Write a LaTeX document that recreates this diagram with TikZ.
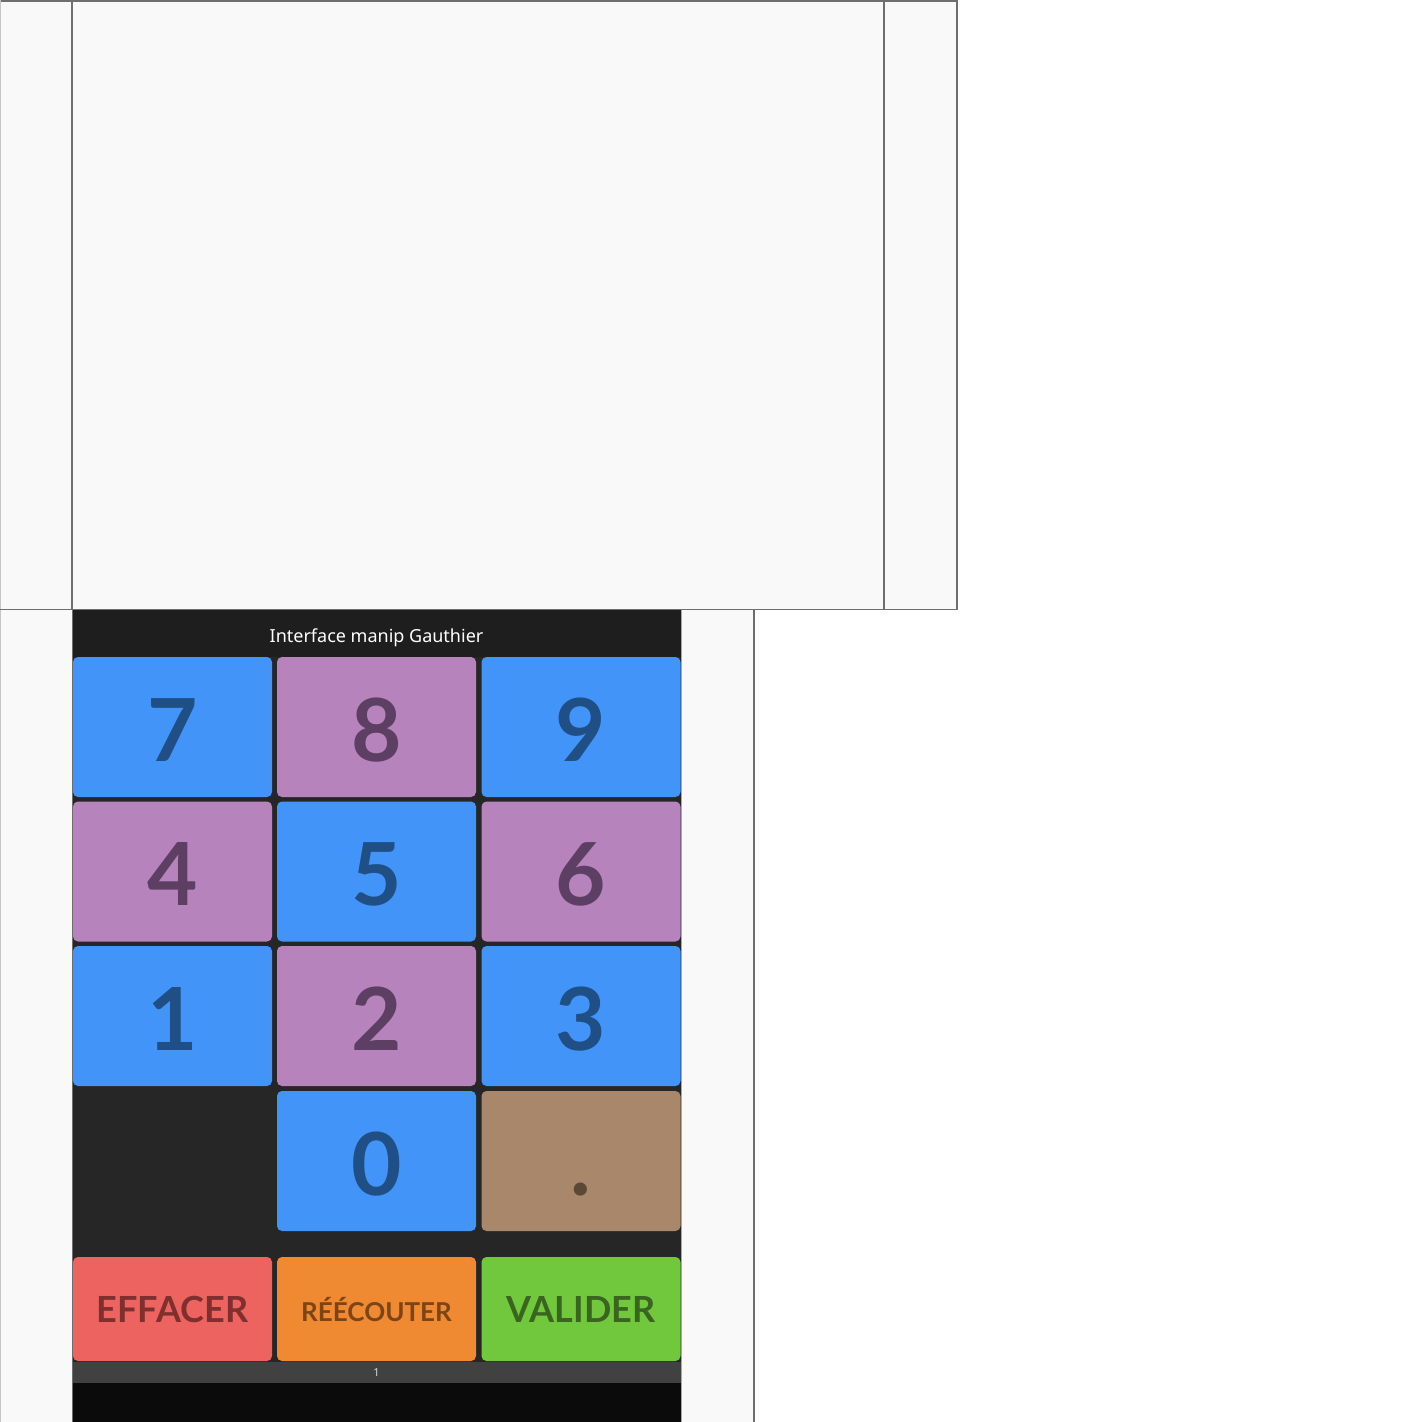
\documentclass[tikz,border=0pt]{standalone}
\usepackage{fontspec}
\setmainfont{Noto Sans}
\newfontfamily\keyfont{Lato}
\definecolor{panelbg}{HTML}{F9F9F9}
\definecolor{edge}{HTML}{6E6E6E}
\definecolor{titlebg}{HTML}{1E1E1E}
\definecolor{bodybg}{HTML}{262626}
\definecolor{footbg}{HTML}{414141}
\definecolor{endbg}{HTML}{0B0B0B}
\definecolor{kblue}{HTML}{4394F8}
\definecolor{tblue}{HTML}{1F4F85}
\definecolor{kpurple}{HTML}{B783BD}
\definecolor{tpurple}{HTML}{5C3F62}
\definecolor{kbrown}{HTML}{A8876A}
\definecolor{tbrown}{HTML}{5B4835}
\definecolor{kred}{HTML}{EC6360}
\definecolor{tred}{HTML}{7E2F2E}
\definecolor{korange}{HTML}{EF8932}
\definecolor{torange}{HTML}{7C4517}
\definecolor{kgreen}{HTML}{72C83C}
\definecolor{tgreen}{HTML}{3A6520}
\tikzset{
  keybox/.style={rectangle, rounded corners=5pt, minimum width=199pt, minimum height=140pt, inner sep=0pt, outer sep=0pt, fill=#1},
  btnbox/.style={rectangle, rounded corners=5pt, minimum width=199pt, minimum height=104pt, inner sep=0pt, outer sep=0pt, fill=#1},
  digit/.style={anchor=base, inner sep=0pt, text=#1, font=\keyfont\bfseries\fontsize{87}{87}\selectfont},
  btntext/.style={inner sep=0pt, text=#1, font=\keyfont\bfseries\fontsize{36}{36}\selectfont},
  edgeline/.style={draw=edge, line width=1.5pt}
}
\begin{document}
\begin{tikzpicture}[x=1pt, y=-1pt]
\useasboundingbox (0,0) rectangle (1422,1422);
% top panel
\fill[panelbg] (0,0) rectangle (957,609);
\draw[edgeline] (0.5,0.75) -- (957,0.75) -- (957,609.5) -- (0,609.5);
\draw[draw=edge!40, line width=1pt] (0.5,0) -- (0.5,609);
\draw[edgeline] (72,0) -- (72,609);
\draw[edgeline] (884,0) -- (884,609);
% bottom panel
\fill[panelbg] (0,610) rectangle (754,1422);
\draw[edgeline] (754,610) -- (754,1422);
\draw[draw=edge!40, line width=1pt] (0.5,610) -- (0.5,1422);
% phone
\fill[bodybg] (72,610) rectangle (681,1422);
\fill[titlebg] (72,610) rectangle (681,657);
\fill[footbg] (72,1362) rectangle (681,1383);
\fill[endbg] (72,1383) rectangle (681,1422);
\draw[draw=edge, line width=1pt] (72,610) -- (72,1422);
\draw[draw=edge!60, line width=1pt] (681.5,610) -- (681.5,1422);
\node[text=white, inner sep=0pt, font=\fontsize{18}{18}\selectfont] (title) at (376.5,638) {Interface manip Gauthier};
% keys
\node[keybox=kblue]   (k7) at (172.5,727) {};
\node[keybox=kpurple] (k8) at (376.5,727) {};
\node[keybox=kblue]   (k9) at (581,727) {};
\node[keybox=kpurple] (k4) at (172.5,871.5) {};
\node[keybox=kblue]   (k5) at (376.5,871.5) {};
\node[keybox=kpurple] (k6) at (581,871.5) {};
\node[keybox=kblue]   (k1) at (172.5,1016) {};
\node[keybox=kpurple] (k2) at (376.5,1016) {};
\node[keybox=kblue]   (k3) at (581,1016) {};
\node[keybox=kblue]   (k0) at (376.5,1161) {};
\node[keybox=kbrown]  (kdot) at (581,1161) {};
\foreach \k/\d/\c in {k7/7/tblue,k8/8/tpurple,k9/9/tblue,k4/4/tpurple,k5/5/tblue,k6/6/tpurple,k1/1/tblue,k2/2/tpurple,k3/3/tblue,k0/0/tblue}{
  \node[digit=\c] (t\k) at ([yshift=-34pt]\k.center) {\d};
}
\node[digit=tbrown] (tkdot) at ([yshift=-34pt]kdot.center) {.};
% buttons
\node[btnbox=kred]    (bclear)  at (172.5,1309) {};
\node[btnbox=korange] (breplay) at (376.5,1309) {};
\node[btnbox=kgreen]  (bok)     at (581,1309) {};
\node[btntext=tred] at (bclear.center) {EFFACER};
\node[btntext=torange, font=\keyfont\bfseries\fontsize{26}{26}\selectfont] at (breplay.center) {RÉÉCOUTER};
\node[btntext=tgreen] at (bok.center) {VALIDER};
\node[text=white!85!black, inner sep=0pt, font=\fontsize{11}{11}\selectfont] (page) at (376.5,1373) {1};
\end{tikzpicture}
\end{document}
